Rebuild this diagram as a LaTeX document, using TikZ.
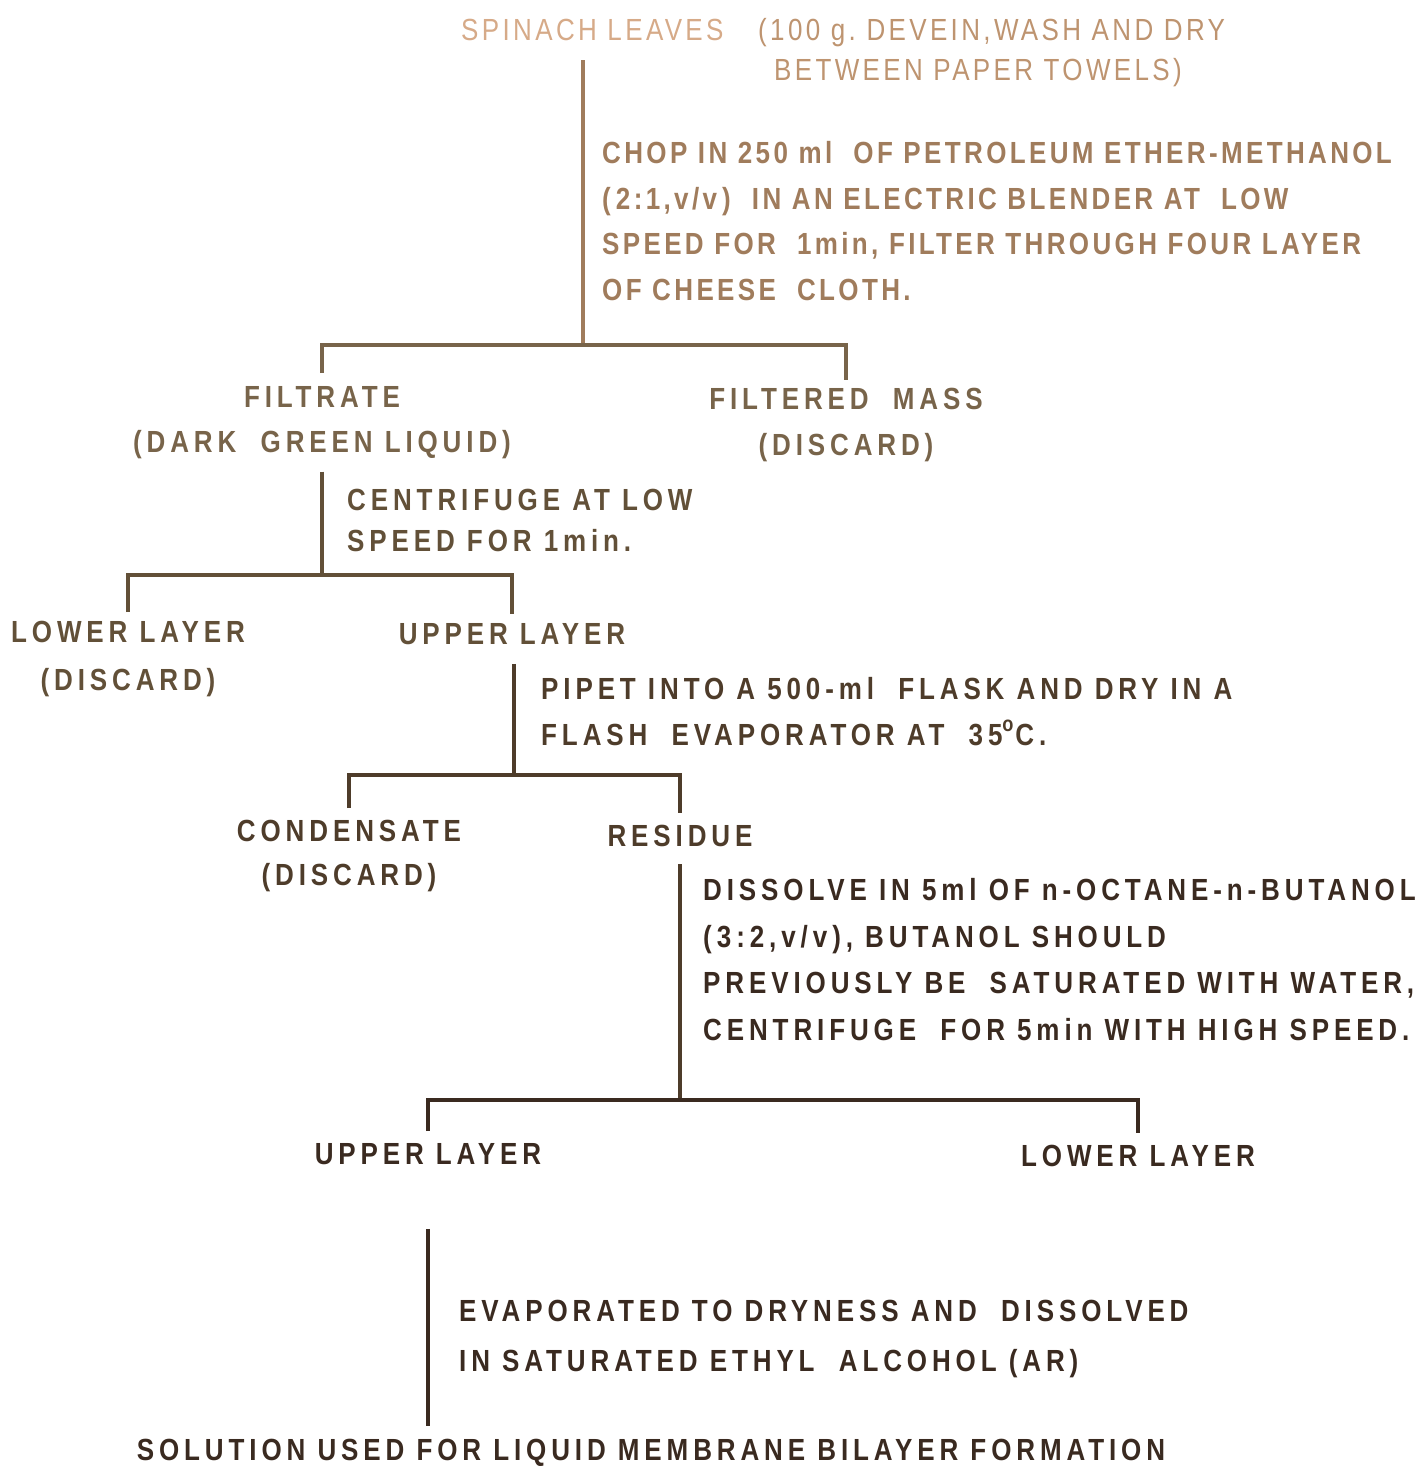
\documentclass[tikz,border=0pt]{standalone}
\usepackage{fontspec}
\newfontfamily\flowfont[FakeStretch=0.85,LetterSpace=16]{Liberation Sans}
\newfontfamily\topfont[FakeStretch=0.85,LetterSpace=11]{Liberation Sans}
\usepackage{tikz}
\usetikzlibrary{positioning}

\definecolor{inkA}{RGB}{214,170,136}
\definecolor{inkB}{RGB}{190,148,112}
\definecolor{inkC}{RGB}{160,124,92}
\definecolor{inkD}{RGB}{120,100,74}
\definecolor{inkE}{RGB}{98,80,56}
\definecolor{inkF}{RGB}{78,60,42}
\definecolor{inkG}{RGB}{58,42,32}

\tikzset{
	gap/.style={font=\flowfont\bfseries\fontsize{8.7}{#1}\selectfont},
	tgap/.style={font=\topfont\bfseries\fontsize{8.7}{#1}\selectfont},
	lbl/.style={inner sep=1pt, gap=13, align=center},
	note/.style={inner sep=1pt, gap=13, align=left, anchor=north west},
	flow/.style={line width=0.9pt},
	bar/.style={line width=1.4pt}
}

\begin{document}
\begin{tikzpicture}
	\useasboundingbox (0,0) rectangle (14.25,-14.68);
	%% leaves
	\node[lbl, anchor=west, text=inkA, font=\topfont\fontsize{8.7}{13}\selectfont] (leaves) at (4.57,-0.30) {SPINACH LEAVES};
	\node[note, text=inkB, font=\topfont\fontsize{8.7}{11.4}\selectfont] (prep) at (7.54,-0.14) {(100 g.\ DEVEIN,WASH AND DRY\\\hspace*{0.16cm}BETWEEN PAPER TOWELS)};
	\coordinate (j1) at (5.83,-3.45);
	\node[note, text=inkC, tgap=13] (chop) at (5.98,-1.37) {CHOP IN 250 ml\ \ OF PETROLEUM ETHER-METHANOL\\(\,2:1,v/v\,)\ \ IN AN ELECTRIC BLENDER AT\ \ LOW\\SPEED FOR\ \ 1min, FILTER THROUGH FOUR LAYER\\OF CHEESE\ \ CLOTH.};
	%% filtrate
	\node[lbl, anchor=north, text=inkD] (filt) at (3.22,-3.82) {FILTRATE\\(DARK\ \ GREEN LIQUID)};
	\node[lbl, anchor=north, text=inkD] (mass) at (8.46,-3.84) {FILTERED\ \ MASS\\(DISCARD)};
	\draw[flow, draw=inkC, shorten <=0.15cm] (leaves.south -| j1) -- (j1);
	\draw[bar, draw=inkD, shorten <=0.09cm, shorten >=0.04cm] (filt) |- (j1) -| (mass);
	\coordinate (j2) at (3.22,-5.75);
	\node[note, text=inkE, gap=11.7] (spin) at (3.43,-4.85) {CENTRIFUGE AT LOW\\SPEED FOR 1min.};
	%% layers
	\node[lbl, anchor=north, text=inkE, gap=13.6] (lowA) at (1.28,-6.17) {LOWER LAYER\\(DISCARD)};
	\node[lbl, anchor=north, text=inkE] (upA) at (5.12,-6.19) {UPPER LAYER};
	\draw[flow, draw=inkE, shorten <=0.08cm] (filt.south -| j2) -- (j2);
	\draw[bar, draw=inkE, shorten <=0.05cm, shorten >=0.05cm] (lowA) |- (j2) -| (upA);
	\coordinate (j3) at (5.14,-7.75);
	\node[note, text=inkF] (pipet) at (5.37,-6.73) {PIPET INTO A 500-ml\ \ FLASK AND DRY IN A\\FLASH\ \ EVAPORATOR AT\ \ 35\textsuperscript{o}C.};
	%% residue
	\node[lbl, anchor=north, text=inkF, gap=12.5] (cond) at (3.49,-8.16) {CONDENSATE\\(DISCARD)};
	\node[lbl, anchor=north, text=inkF] (res) at (6.80,-8.21) {RESIDUE};
	\draw[flow, draw=inkF, shorten <=0.15cm] (upA.south -| j3) -- (j3);
	\draw[bar, draw=inkF, shorten <=0.08cm, shorten >=0.08cm] (cond) |- (j3) -| (res);
	\coordinate (j4) at (6.80,-11.00);
	\node[note, text=inkG, gap=13.3] (diss) at (6.99,-8.74) {DISSOLVE IN 5ml OF n-OCTANE-n-BUTANOL\\(\,3:2,v/v\,), BUTANOL SHOULD\\PREVIOUSLY BE\ \ SATURATED WITH WATER,\\CENTRIFUGE\ \ FOR 5min WITH HIGH SPEED.};
	%% final layers
	\node[lbl, anchor=north, text=inkG] (upB) at (4.28,-11.39) {UPPER LAYER};
	\node[lbl, anchor=north, text=inkG] (lowB) at (11.38,-11.41) {LOWER LAYER};
	\draw[flow, draw=inkF, shorten <=0.13cm] (res) -- (j4);
	\draw[bar, draw=inkG, shorten <=0.08cm, shorten >=0.08cm] (upB) |- (j4) -| (lowB);
	\node[note, text=inkG, gap=14.2] (evap) at (4.55,-12.96) {EVAPORATED TO DRYNESS AND\ \ DISSOLVED\\IN SATURATED ETHYL\ \ ALCOHOL (AR)};
	\node[lbl, anchor=north, text=inkG] (sol) at (6.51,-14.35) {SOLUTION USED FOR LIQUID MEMBRANE BILAYER FORMATION};
	\draw[flow, draw=inkG, shorten <=0.6cm, shorten >=0.09cm] (upB.south) -- (upB.south |- sol.north);
\end{tikzpicture}
\end{document}
